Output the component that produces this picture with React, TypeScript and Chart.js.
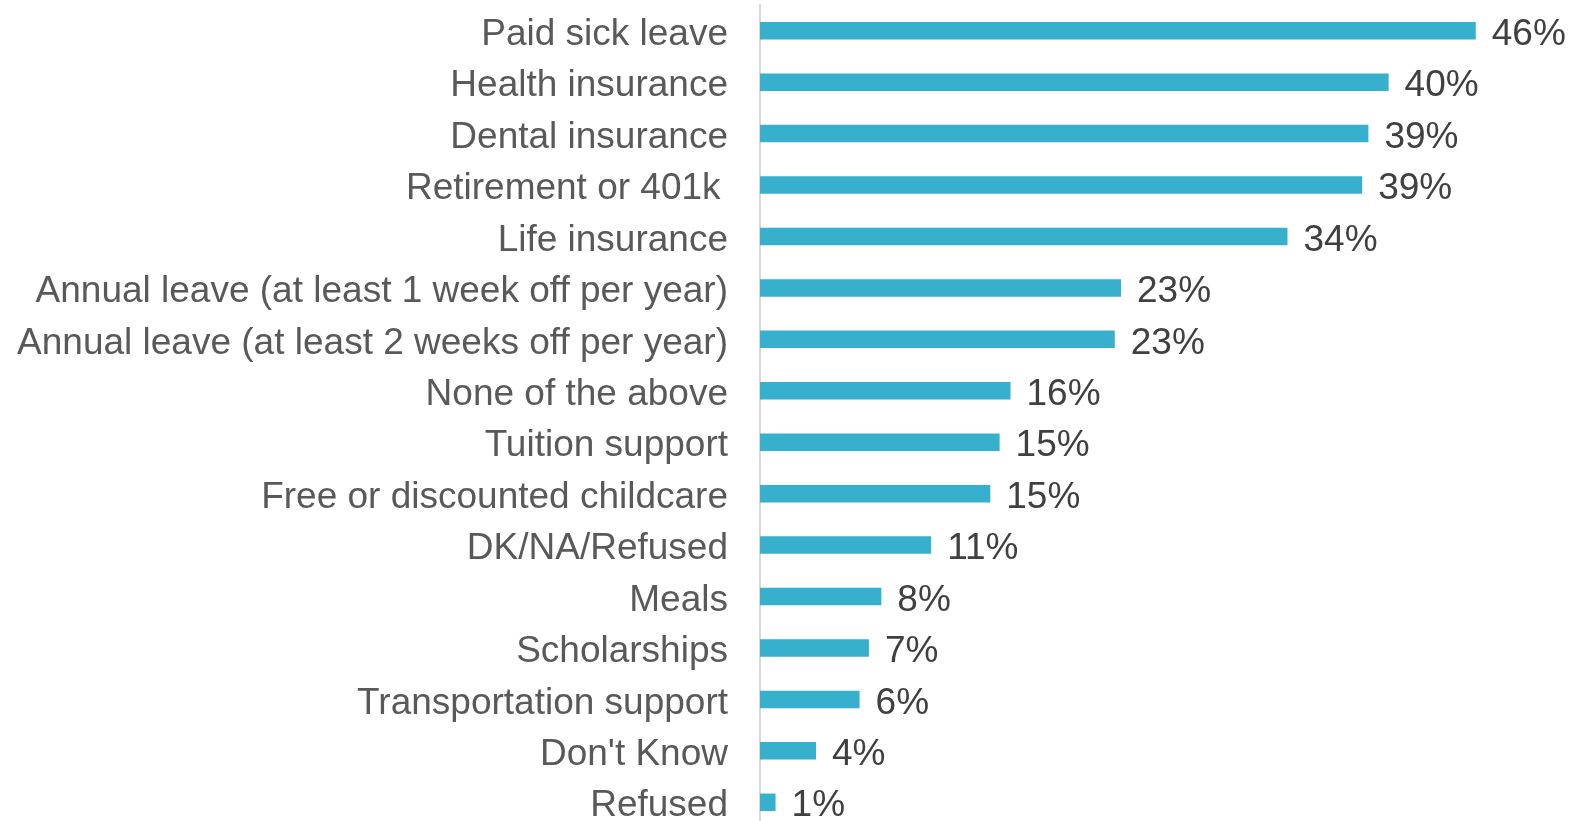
import React, { useEffect, useRef } from "react";
import { Chart, registerables } from "chart.js";

Chart.register(...registerables);

const categories: string[] = [
  "Paid sick leave",
  "Health insurance",
  "Dental insurance",
  "Retirement or 401k\u2009",
  "Life insurance",
  "Annual leave (at least 1 week off per year)",
  "Annual leave (at least 2 weeks off per year)",
  "None of the above",
  "Tuition support",
  "Free or discounted childcare",
  "DK/NA/Refused",
  "Meals",
  "Scholarships",
  "Transportation support",
  "Don't Know",
  "Refused",
];

const values: number[] = [46, 40.4, 39.1, 38.7, 33.9, 23.2, 22.8, 16.1, 15.4, 14.8, 11.0, 7.8, 7.0, 6.4, 3.6, 1.0];

const valueLabels: string[] = ["46%", "40%", "39%", "39%", "34%", "23%", "23%", "16%", "15%", "15%", "11%", "8%", "7%", "6%", "4%", "1%"];

const FONT = "'Liberation Sans', Arial, sans-serif";

const valueLabelPlugin = {
  id: "valueLabels",
  afterDatasetsDraw(chart: any) {
    const ctx = chart.ctx;
    const meta = chart.getDatasetMeta(0);
    ctx.save();
    ctx.font = `37px ${FONT}`;
    ctx.fillStyle = "#404040";
    ctx.textAlign = "left";
    ctx.textBaseline = "middle";
    meta.data.forEach((bar: any, i: number) => {
      ctx.fillText(valueLabels[i], bar.x + 16, bar.y + 4);
    });
    ctx.restore();
  },
};

export default function App() {
  const ref = useRef<HTMLCanvasElement | null>(null);

  useEffect(() => {
    document.body.style.margin = "0";
    if (!ref.current) return;
    const chart = new Chart(ref.current, {
      type: "bar",
      data: {
        labels: categories,
        datasets: [
          {
            data: values,
            backgroundColor: "#36B0CC",
            borderWidth: 0,
            barPercentage: 0.34,
            categoryPercentage: 1,
          },
        ],
      },
      options: {
        indexAxis: "y",
        responsive: false,
        animation: false,
        layout: { padding: { top: 5, bottom: 2, left: 0, right: 43 } },
        plugins: {
          legend: { display: false },
          tooltip: { enabled: false },
        },
        scales: {
          x: {
            display: false,
            min: 0,
            max: 50,
          },
          y: {
            afterFit: (s: any) => {
              s.width = 760;
              s.paddingTop = 0;
              s.paddingBottom = 0;
            },
            grid: { display: false, drawTicks: false },
            border: { display: true, color: "#D9D9D9", width: 2 },
            ticks: {
              padding: 32,
              labelOffset: 4,
              color: "#595959",
              font: { family: FONT, size: 37 },
              autoSkip: false,
            },
          },
        },
      },
      plugins: [valueLabelPlugin],
    });
    return () => chart.destroy();
  }, []);

  return (
    <div style={{ position: "fixed", left: 0, top: 0, width: 1581, height: 821, overflow: "hidden", background: "#fff" }}>
      <canvas ref={ref} width={1581} height={830} style={{ display: "block" }} />
    </div>
  );
}
